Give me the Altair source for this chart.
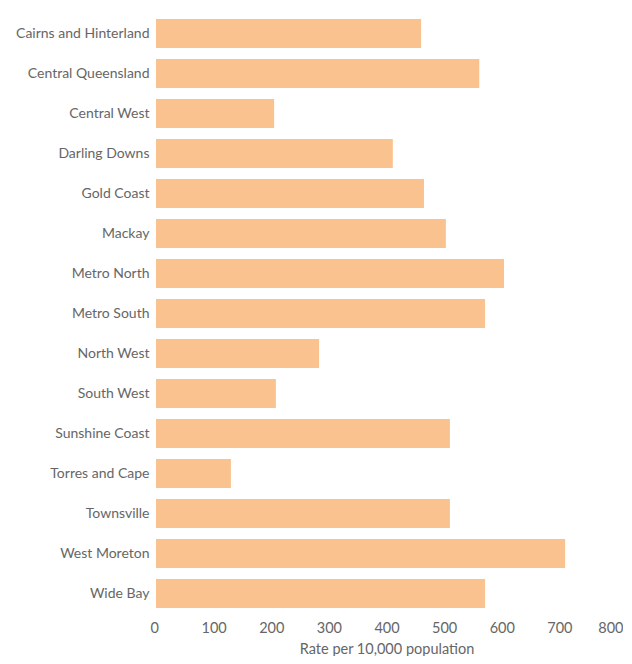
import altair as alt
import pandas as pd

regions = ["Cairns and Hinterland", "Central Queensland", "Central West", "Darling Downs",
           "Gold Coast", "Mackay", "Metro North", "Metro South", "North West", "South West",
           "Sunshine Coast", "Torres and Cape", "Townsville", "West Moreton", "Wide Bay"]
rates = [460, 561, 205, 411, 465, 503, 604, 571, 283, 208, 510, 130, 510, 710, 571]
x_ticks = [0, 100, 200, 300, 400, 500, 600, 700, 800]

df = pd.DataFrame({"region": regions, "rate": rates})

FONT = "Lato"
GREY = "#666666"

chart = alt.Chart(df).mark_bar(color="#F9C28E").encode(
    x=alt.X("rate:Q",
            scale=alt.Scale(domain=[0, 800], nice=False),
            axis=alt.Axis(title="Rate per 10,000 population", values=x_ticks,
                          grid=False, domain=False, ticks=False, labelPadding=2,
                          labelFlush=True, labelFlushOffset=6,
                          labelFont=FONT, labelFontSize=14.5, labelColor=GREY,
                          titleFont=FONT, titleFontSize=14.5, titleColor=GREY,
                          titleFontWeight="normal", titlePadding=8)),
    y=alt.Y("region:N", sort=regions,
            scale=alt.Scale(paddingInner=0.275, paddingOuter=0.275),
            axis=alt.Axis(title=None, grid=False, domain=False, ticks=False, labelPadding=7,
                          labelFont=FONT, labelFontSize=14, labelColor=GREY,
                          minExtent=143, maxExtent=143)),
).properties(
    width=461, height=611,
    padding={"left": 5, "top": 0, "right": 0, "bottom": 0},
).configure_view(stroke=None)

chart.save("out.html", embed_options={"renderer": "svg", "actions": False})
